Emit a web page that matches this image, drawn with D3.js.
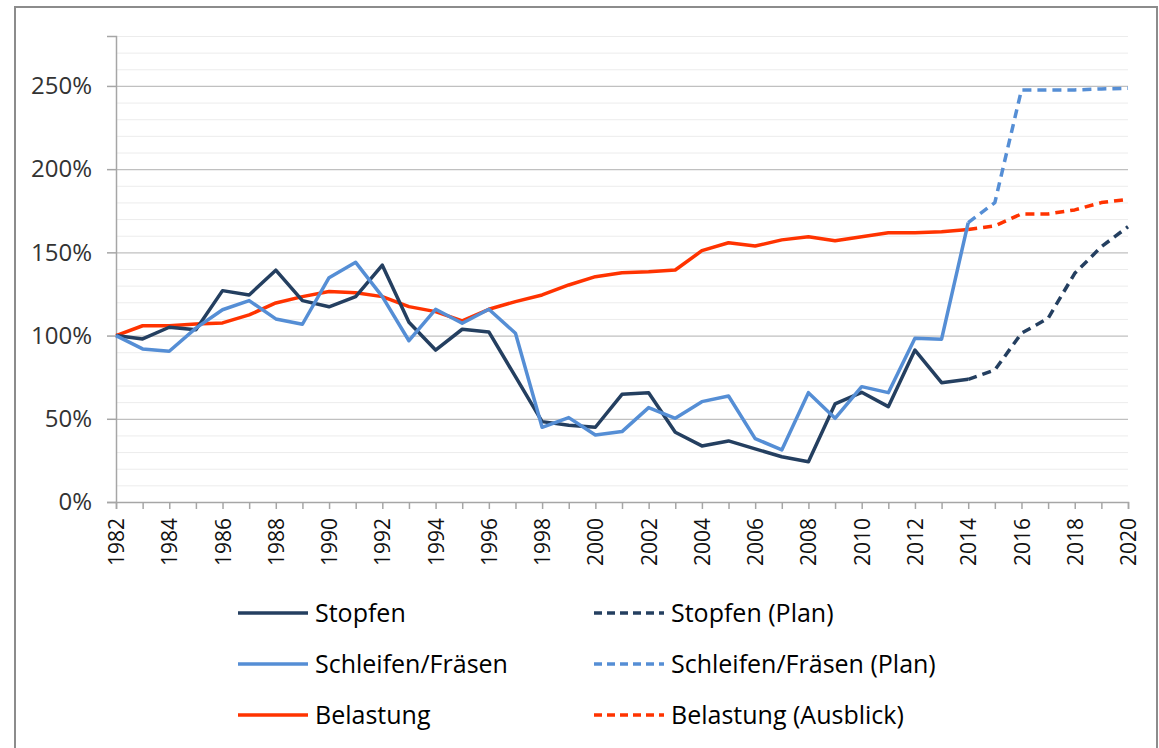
<!DOCTYPE html>
<html>
<head>
<meta charset="utf-8">
<script src="https://cdn.jsdelivr.net/npm/d3@7"></script>
<style>
  body { margin: 0; background: #fff; }
  svg { display: block; font-family: "Open Sans", sans-serif; }
  .grid-major line { stroke: #c0c0c0; stroke-width: 1.3; }
  .grid-minor line { stroke: #ececec; stroke-width: 1; }
  .line { fill: none; stroke-width: 3.5; stroke-linejoin: round; }
</style>
</head>
<body>
<script>
// ---- data (percent of 1982) ----
var years = d3.range(1982, 2021);
var yTicks = [0, 50, 100, 150, 200, 250];

// measured 1982..2014
var stopfen = [100, 98, 105, 103.5, 127, 124.4, 139.3, 121, 117.3, 123.4, 142.3,
    108, 91.3, 103.8, 102.2, 75.3, 48.3, 46.1, 44.9, 64.7, 65.7, 41.9, 33.7, 36.7,
    31.9, 27.2, 24.2, 58.9, 65.9, 57.3, 91.3, 71.7, 73.7];
var schleifen = [100, 92, 90.6, 104.5, 115.5, 121, 110, 106.8, 134.8, 144, 123.4,
    96.9, 115.8, 107.4, 115.8, 101.4, 44.9, 50.7, 40.3, 42.3, 56.7, 50.3, 60.3, 63.7,
    38.1, 31.3, 65.7, 50.3, 69.3, 65.7, 98.4, 97.8, 167.9];
var belastung = [100, 105.9, 105.9, 107, 107.6, 112.4, 119.6, 123.4, 126.5, 125.7, 123.4,
    117.4, 114.4, 108.8, 115.8, 120.4, 124.4, 130.4, 135.4, 137.8, 138.4, 139.4, 151, 155.8,
    153.8, 157.5, 159.4, 157, 159.4, 161.8, 161.8, 162.4, 163.8];

// plan / outlook 2014..2020
var stopfenPlan = [73.7, 79.3, 101.4, 110.4, 137.4, 153.4, 165.4];
var schleifenPlan = [167.9, 179.9, 247.6, 247.6, 247.6, 248.2, 248.6];
var belastungPlan = [163.8, 165.9, 173.1, 173.1, 175.5, 179.9, 181.9];

var legendNames = ["Stopfen", "Stopfen (Plan)", "Schleifen/Fräsen", "Schleifen/Fräsen (Plan)",
    "Belastung", "Belastung (Ausblick)"];

var cStopfen = "#243f60", cSchleifen = "#558ed5", cBelastung = "#ff3300";

//---------setup plot-----------------------//
var W = 1159, H = 748;
var margin = {top: 36, left: 116, right: 31, bottom: 246};
var width = W - margin.left - margin.right,
    height = H - margin.top - margin.bottom;

var svg = d3.select("body").append("svg")
    .attr("width", W)
    .attr("height", H);

// outer frame
svg.append("rect")
    .attr("x", 15).attr("y", 7)
    .attr("width", 1142).attr("height", 760)
    .attr("fill", "none")
    .attr("stroke", "#8c8c8c")
    .attr("stroke-width", 2);

var g = svg.append("g")
    .attr("transform", "translate(" + margin.left + "," + margin.top + ")");

var x = d3.scaleLinear().domain([1982, 2020]).range([0, width]);
var y = d3.scaleLinear().domain([0, 280]).range([height, 0]);

// minor gridlines every 10%
g.append("g")
    .attr("class", "grid-minor")
    .call(d3.axisLeft(y).tickValues(d3.range(10, 290, 10).filter(function (v) { return v % 50 !== 0; }))
        .tickSize(-width).tickFormat(""))
    .call(function (s) { s.select(".domain").remove(); });

// major gridlines
g.append("g")
    .attr("class", "grid-major")
    .call(d3.axisLeft(y).tickValues(yTicks.slice(1)).tickSize(-width).tickFormat(""))
    .call(function (s) { s.select(".domain").remove(); });

// y-axis
var yAxis = g.append("g")
    .call(d3.axisLeft(y).tickValues(yTicks).tickSizeOuter(0).tickSize(9).tickPadding(15)
        .tickFormat(function (d) { return d + "%"; }));
yAxis.select(".domain").attr("stroke", "#a6a6a6").attr("stroke-width", 1.5);
yAxis.selectAll(".tick line").attr("stroke", "#a6a6a6").attr("stroke-width", 1.5);
yAxis.selectAll(".tick text").attr("fill", "#333").style("font-size", "24px")
    .style("font-family", "Open Sans, sans-serif");

// x-axis
var xAxis = g.append("g")
    .attr("transform", "translate(0," + height + ")")
    .call(d3.axisBottom(x).tickValues(years).tickSizeOuter(0).tickSize(7)
        .tickFormat(function (d) { return d % 2 === 0 ? String(d) : ""; }));
xAxis.select(".domain").attr("stroke", "#a6a6a6").attr("stroke-width", 1.5);
xAxis.selectAll(".tick line").attr("stroke", "#a6a6a6").attr("stroke-width", 1.5);
xAxis.selectAll(".tick text")
    .attr("fill", "#111")
    .style("font-size", "21px")
    .style("font-family", "Open Sans, sans-serif")
    .attr("transform", "rotate(-90)")
    .attr("text-anchor", "end")
    .attr("x", -16)
    .attr("y", 0)
    .attr("dy", "0.36em");

//-------------data lines----------//
function makeLine(startYear) {
    return d3.line()
        .x(function (d, i) { return x(startYear + i); })
        .y(function (d) { return y(d); });
}

var series = [
    {data: belastung, start: 1982, color: cBelastung, dash: null},
    {data: belastungPlan, start: 2014, color: cBelastung, dash: "9,6"},
    {data: stopfen, start: 1982, color: cStopfen, dash: null},
    {data: stopfenPlan, start: 2014, color: cStopfen, dash: "9,6"},
    {data: schleifen, start: 1982, color: cSchleifen, dash: null},
    {data: schleifenPlan, start: 2014, color: cSchleifen, dash: "9,6"}
];

series.forEach(function (s) {
    g.append("path")
        .datum(s.data)
        .attr("class", "line")
        .style("stroke", s.color)
        .attr("stroke-dasharray", s.dash)
        .attr("d", makeLine(s.start));
});

//-------------legend----------//
var legendColors = [cStopfen, cStopfen, cSchleifen, cSchleifen, cBelastung, cBelastung];
var legend = svg.append("g");
legendNames.forEach(function (name, i) {
    var col = i % 2, row = Math.floor(i / 2);
    var lx = col === 0 ? 238 : 594;
    var ly = 613 + row * 51;
    legend.append("line")
        .attr("x1", lx).attr("x2", lx + 70)
        .attr("y1", ly).attr("y2", ly)
        .attr("stroke", legendColors[i])
        .attr("stroke-width", 3.5)
        .attr("stroke-dasharray", col === 1 ? "8,5" : null);
    legend.append("text")
        .attr("x", lx + 77)
        .attr("y", ly)
        .attr("dy", "0.35em")
        .style("font-size", "25px")
        .attr("fill", "#000")
        .text(name);
});
</script>
</body>
</html>
